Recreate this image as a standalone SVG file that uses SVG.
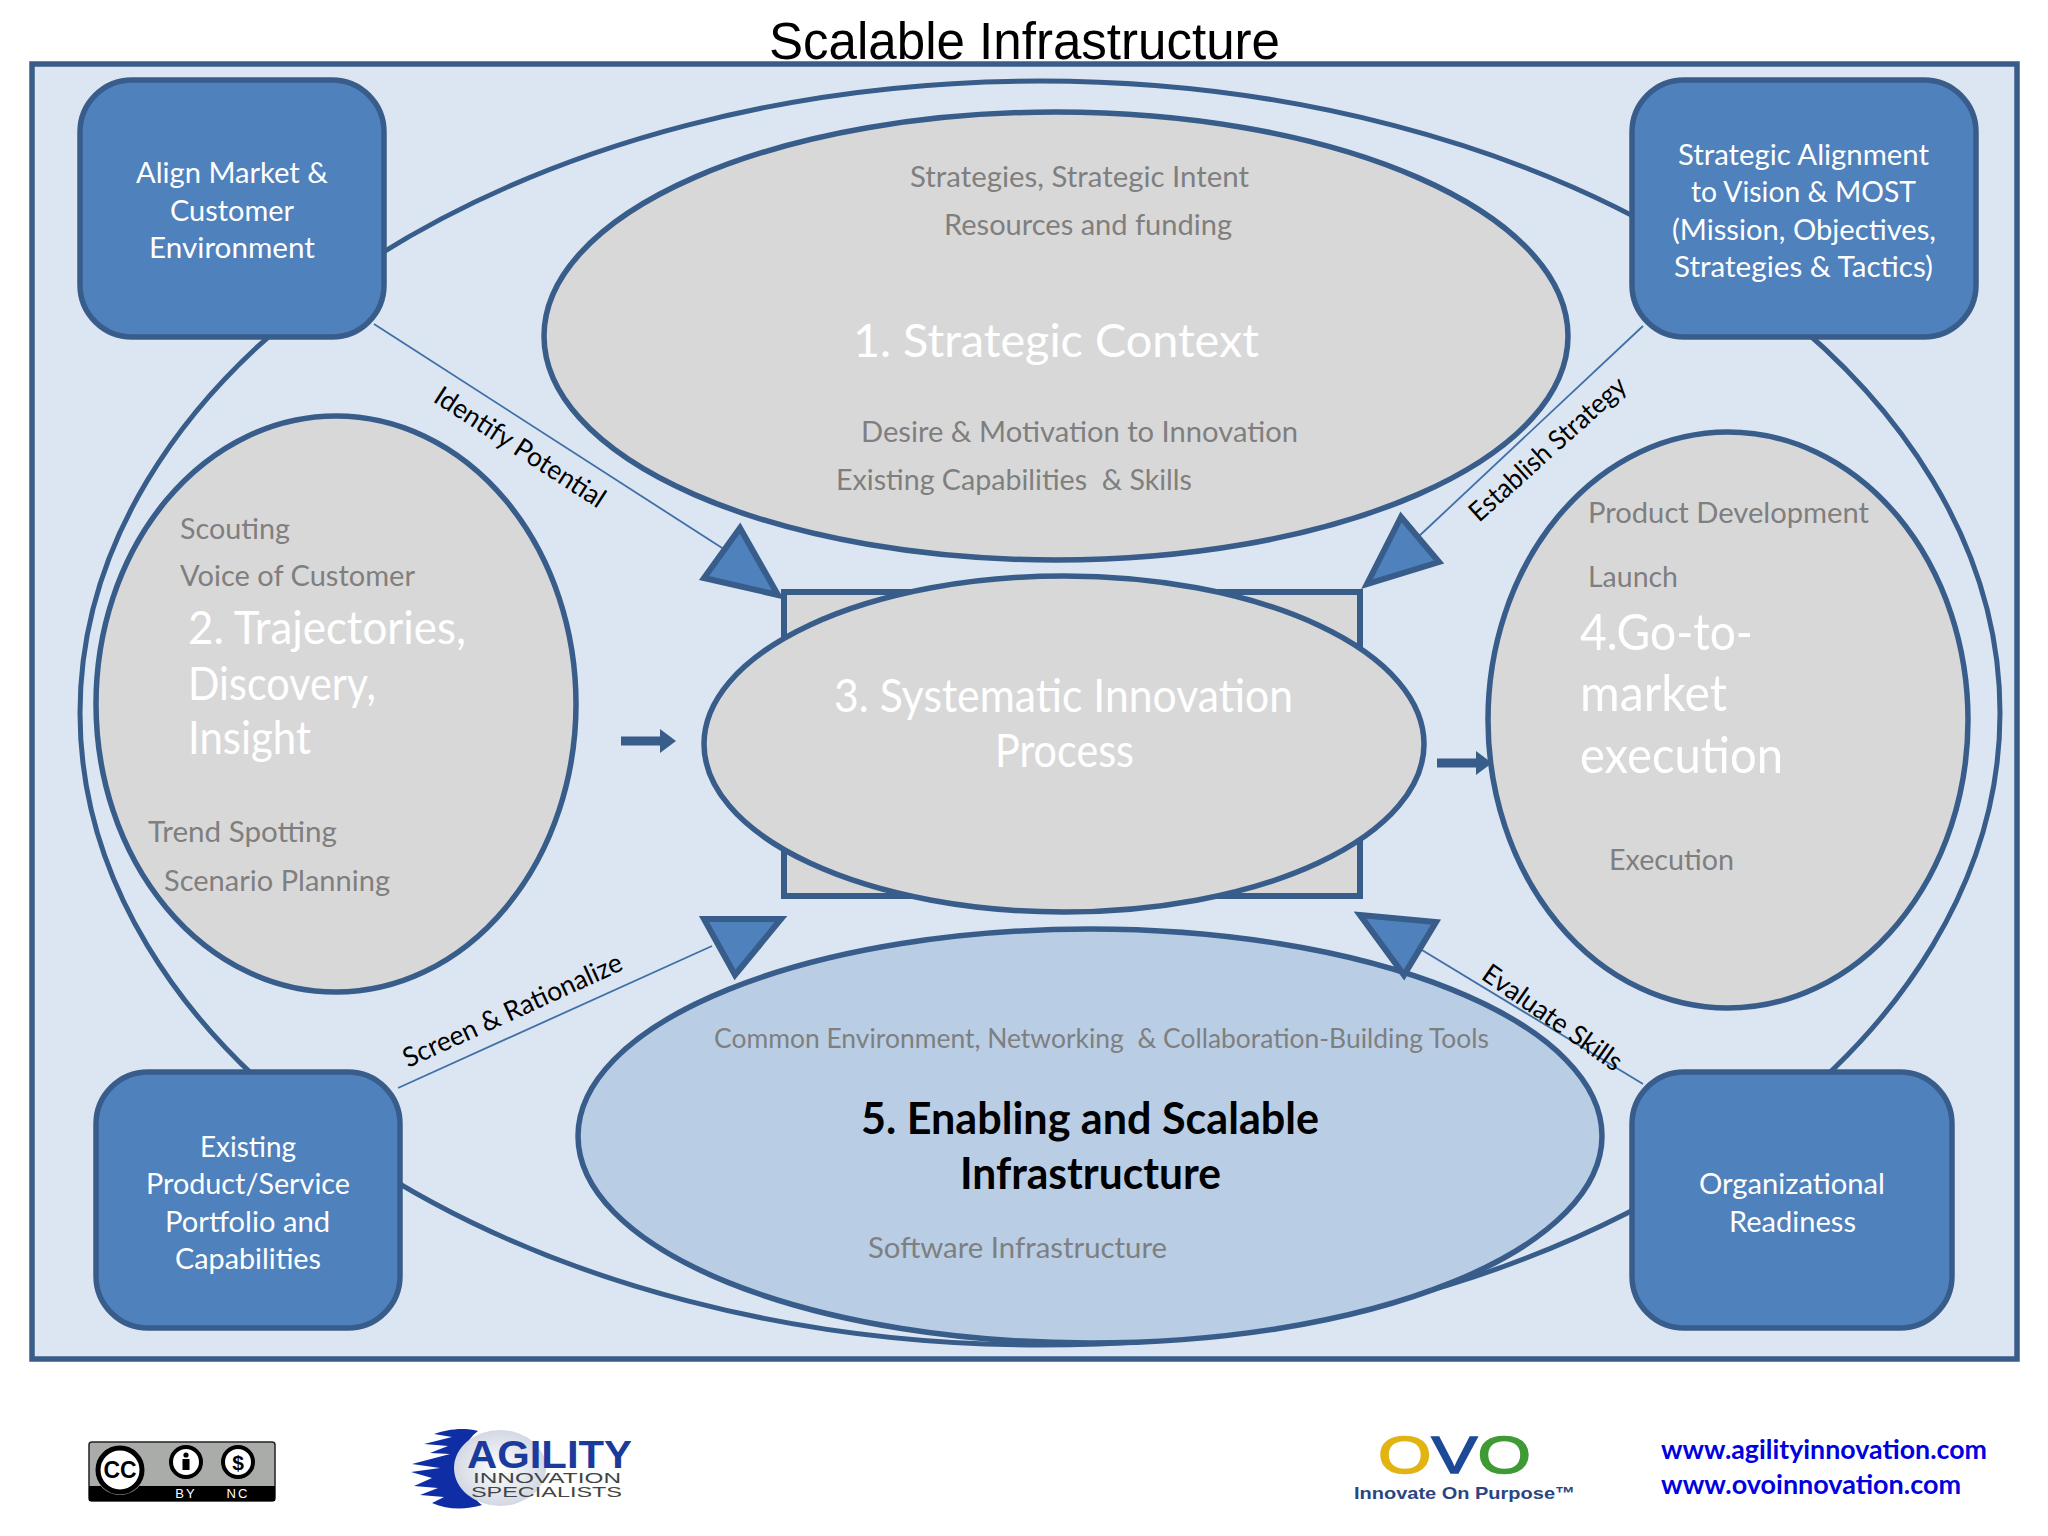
<svg xmlns="http://www.w3.org/2000/svg" width="2048" height="1536" viewBox="0 0 2048 1536">
<style>
.s{stroke:#385d8a;stroke-width:5}
.el{fill:#d9d8d9;stroke:#385d8a;stroke-width:5.5}
.bx{fill:#4f81bd;stroke:#385d8a;stroke-width:5.5}
.tri{fill:#4f81bd;stroke:#385d8a;stroke-width:6;stroke-linejoin:miter}
.ln{stroke:#3f6fa8;stroke-width:1.8;fill:none}
text{font-family:Lato,"Open Sans","Liberation Sans",sans-serif}
.g{fill:#7f7f7f;font-size:29px}
.g2{fill:#7f7f7f;font-size:27px}
.w{fill:#fff;font-size:29px}
.h{fill:#fff;font-size:47px}
.b{fill:#000;font-size:44px;font-weight:700}
.r{fill:#000;font-size:27px}
.ls{font-family:"Liberation Sans",sans-serif}
</style>
<defs>
<marker id="ah" markerUnits="userSpaceOnUse" markerWidth="16" markerHeight="24" refX="1" refY="12" orient="auto"><path d="M0 0L16 12L0 24Z" fill="#385d8a"/></marker>
<radialGradient id="ag" cx="0.5" cy="0.5" r="0.5"><stop offset="0" stop-color="#ffffff"/><stop offset="1" stop-color="#d3d8e4"/></radialGradient>
</defs>
<rect width="2048" height="1536" fill="#fff"/>
<text id="title" class="ls" x="769" y="59" font-size="51" textLength="511" lengthAdjust="spacingAndGlyphs" fill="#000">Scalable Infrastructure</text>
<rect id="frame" x="32" y="64" width="1985" height="1295" fill="#dce6f2" stroke="#385d8a" stroke-width="5.5"/>
<ellipse id="outer-ring" cx="1040" cy="713" rx="960" ry="632" fill="none" class="s"/>
<rect id="process-square" x="784" y="592" width="576" height="304" fill="#d9d8d9" class="s" style="stroke-width:6"/>

<g id="connectors">
<line class="ln" x1="374" y1="324" x2="733" y2="555"/>
<line class="ln" x1="1643" y1="326" x2="1417" y2="538"/>
<line class="ln" x1="398" y1="1088" x2="712" y2="946"/>
<line class="ln" x1="1643" y1="1084" x2="1417" y2="947"/>
<line x1="621" y1="741" x2="661" y2="741" stroke="#385d8a" stroke-width="9" marker-end="url(#ah)"/>
<line x1="1437" y1="763" x2="1477" y2="763" stroke="#385d8a" stroke-width="9" marker-end="url(#ah)"/>
<text class="r" transform="translate(432 401) rotate(33)" textLength="198" lengthAdjust="spacingAndGlyphs">Identify Potential</text>
<text class="r" transform="translate(1479 523) rotate(-42)" textLength="201" lengthAdjust="spacingAndGlyphs">Establish Strategy</text>
<text class="r" transform="translate(408 1068) rotate(-24.5)" textLength="238" lengthAdjust="spacingAndGlyphs">Screen &amp; Rationalize</text>
<text class="r" transform="translate(1480 978) rotate(35)" textLength="164" lengthAdjust="spacingAndGlyphs">Evaluate Skills</text>
</g>

<g id="node-1">
<ellipse class="el" cx="1056" cy="336" rx="512" ry="224"/>
<text class="g" x="910" y="187" textLength="339" lengthAdjust="spacingAndGlyphs">Strategies, Strategic Intent</text>
<text class="g" x="944" y="235" textLength="288" lengthAdjust="spacingAndGlyphs">Resources and funding</text>
<text class="h" x="853" y="357" textLength="406" lengthAdjust="spacingAndGlyphs">1. Strategic Context</text>
<text class="g" x="861" y="442" textLength="437" lengthAdjust="spacingAndGlyphs">Desire &amp; Motivation to Innovation</text>
<text class="g" x="836" y="490" textLength="356" lengthAdjust="spacingAndGlyphs" xml:space="preserve">Existing Capabilities  &amp; Skills</text>
</g>

<g id="node-2">
<ellipse class="el" cx="336" cy="704" rx="240" ry="288"/>
<text class="g" x="180" y="539" textLength="110" lengthAdjust="spacingAndGlyphs">Scouting</text>
<text class="g" x="180" y="586" textLength="235" lengthAdjust="spacingAndGlyphs">Voice of Customer</text>
<text class="h" x="188" y="644" textLength="278" lengthAdjust="spacingAndGlyphs">2. Trajectories,</text>
<text class="h" x="188" y="700" textLength="188" lengthAdjust="spacingAndGlyphs">Discovery,</text>
<text class="h" x="188" y="754" textLength="123" lengthAdjust="spacingAndGlyphs">Insight</text>
<text class="g" x="148" y="842" textLength="189" lengthAdjust="spacingAndGlyphs">Trend Spotting</text>
<text class="g" x="164" y="891" textLength="226" lengthAdjust="spacingAndGlyphs">Scenario Planning</text>
</g>

<g id="node-3">
<ellipse class="el" cx="1064" cy="744" rx="360" ry="168"/>
<text class="h" x="834" y="712" textLength="459" lengthAdjust="spacingAndGlyphs">3. Systematic Innovation</text>
<text class="h" x="995" y="767" textLength="139" lengthAdjust="spacingAndGlyphs">Process</text>
</g>

<g id="node-4">
<ellipse class="el" cx="1728" cy="720" rx="240" ry="288"/>
<text class="g" x="1588" y="523" textLength="281" lengthAdjust="spacingAndGlyphs">Product Development</text>
<text class="g" x="1588" y="587" textLength="90" lengthAdjust="spacingAndGlyphs">Launch</text>
<text class="h" x="1580" y="650" style="font-size:50px" textLength="173" lengthAdjust="spacingAndGlyphs">4.Go-to-</text>
<text class="h" x="1580" y="711" style="font-size:50px" textLength="147" lengthAdjust="spacingAndGlyphs">market</text>
<text class="h" x="1580" y="773" style="font-size:50px" textLength="203" lengthAdjust="spacingAndGlyphs">execution</text>
<text class="g" x="1609" y="870" textLength="125" lengthAdjust="spacingAndGlyphs">Execution</text>
</g>

<g id="node-5">
<ellipse class="el" style="fill:#b9cde5" cx="1090" cy="1136" rx="512" ry="207"/>
<text class="g2" x="714" y="1048" textLength="775" lengthAdjust="spacingAndGlyphs" xml:space="preserve">Common Environment, Networking  &amp; Collaboration-Building Tools</text>
<text class="b" x="861" y="1134" textLength="458" lengthAdjust="spacingAndGlyphs">5. Enabling and Scalable</text>
<text class="b" x="960" y="1189" textLength="261" lengthAdjust="spacingAndGlyphs">Infrastructure</text>
<text class="g" x="868" y="1258" textLength="299" lengthAdjust="spacingAndGlyphs">Software Infrastructure</text>
</g>

<g id="arrowheads">
<polygon class="tri" points="740,528 704,578 778,595"/>
<polygon class="tri" points="1401,517 1367,584 1439,562"/>
<polygon class="tri" points="704,919 781,919 735,975"/>
<polygon class="tri" points="1360,915 1436,922 1404,975"/>
</g>

<g id="box-market">
<rect class="bx" x="80" y="80" width="304" height="257" rx="52"/>
<text class="w" x="136" y="183" textLength="192" lengthAdjust="spacingAndGlyphs">Align Market &amp;</text>
<text class="w" x="170" y="221" textLength="124" lengthAdjust="spacingAndGlyphs">Customer</text>
<text class="w" x="149" y="258" textLength="166" lengthAdjust="spacingAndGlyphs">Environment</text>
</g>
<g id="box-alignment">
<rect class="bx" x="1632" y="80" width="344" height="257" rx="52"/>
<text class="w" x="1678" y="165" textLength="251" lengthAdjust="spacingAndGlyphs">Strategic Alignment</text>
<text class="w" x="1691" y="202" textLength="225" lengthAdjust="spacingAndGlyphs">to Vision &amp; MOST</text>
<text class="w" x="1672" y="240" textLength="264" lengthAdjust="spacingAndGlyphs">(Mission, Objectives,</text>
<text class="w" x="1674" y="277" textLength="259" lengthAdjust="spacingAndGlyphs">Strategies &amp; Tactics)</text>
</g>
<g id="box-portfolio">
<rect class="bx" x="96" y="1072" width="304" height="256" rx="52"/>
<text class="w" x="200" y="1157" textLength="96" lengthAdjust="spacingAndGlyphs">Existing</text>
<text class="w" x="146" y="1194" textLength="204" lengthAdjust="spacingAndGlyphs">Product/Service</text>
<text class="w" x="165" y="1232" textLength="165" lengthAdjust="spacingAndGlyphs">Portfolio and</text>
<text class="w" x="175" y="1269" textLength="146" lengthAdjust="spacingAndGlyphs">Capabilities</text>
</g>
<g id="box-readiness">
<rect class="bx" x="1632" y="1072" width="320" height="256" rx="52"/>
<text class="w" x="1699" y="1194" textLength="186" lengthAdjust="spacingAndGlyphs">Organizational</text>
<text class="w" x="1729" y="1232" textLength="127" lengthAdjust="spacingAndGlyphs">Readiness</text>
</g>

<g id="logo-cc">
<rect x="89" y="1442" width="186" height="59" rx="3" fill="#a9aca8" stroke="#222" stroke-width="1.500"/>
<rect x="89" y="1486" width="186" height="15" fill="#000"/>
<circle cx="120" cy="1470" r="25" fill="#a9aca8"/>
<circle cx="120" cy="1470" r="22" fill="#fff" stroke="#000" stroke-width="5"/>
<text class="ls" x="120" y="1478" font-size="23" font-weight="700" text-anchor="middle" fill="#000">CC</text>
<circle cx="186" cy="1462" r="15" fill="#fff" stroke="#000" stroke-width="4"/>
<circle cx="186" cy="1455" r="2.600" fill="#000"/><rect x="182.500" y="1459" width="7" height="11" fill="#000"/>
<circle cx="238" cy="1462" r="15" fill="#fff" stroke="#000" stroke-width="4"/>
<text class="ls" x="238" y="1470" font-size="21" font-weight="700" text-anchor="middle" fill="#000">$</text>
<text class="ls" x="186" y="1498" font-size="13" text-anchor="middle" style="letter-spacing:2px" fill="#fff">BY</text>
<text class="ls" x="238" y="1498" font-size="13" text-anchor="middle" style="letter-spacing:2px" fill="#fff">NC</text>
</g>

<g id="logo-agility">
<path fill="#0f2ea6" d="M478 1431C462 1427 446 1430 434 1434L452 1437L424 1444L448 1446L430 1453L450 1454L412 1464L440 1468L411 1472L432 1478L414 1486L438 1488L420 1495L444 1497L432 1503C448 1510 466 1510 482 1505C462 1490 452 1450 478 1431Z"/>
<ellipse cx="500" cy="1468" rx="46" ry="38" fill="url(#ag)"/>
<text class="ls" x="467" y="1468" font-size="38" font-weight="700" textLength="165" lengthAdjust="spacingAndGlyphs" fill="#1a3a9c">AGILITY</text>
<text class="ls" x="473" y="1483" font-size="14" textLength="148" lengthAdjust="spacingAndGlyphs" fill="#444">INNOVATION</text>
<text class="ls" x="471" y="1497" font-size="14" textLength="151" lengthAdjust="spacingAndGlyphs" fill="#444">SPECIALISTS</text>
</g>

<g id="logo-ovo">
<text class="ls" x="1378" y="1473" font-size="52" textLength="153" lengthAdjust="spacingAndGlyphs" stroke-width="1.500"><tspan fill="#e2b412" stroke="#e2b412">O</tspan><tspan fill="#1c4a97" stroke="#1c4a97">V</tspan><tspan fill="#3f9a35" stroke="#3f9a35">O</tspan></text>
<text class="ls" x="1354" y="1499" font-size="17" font-weight="700" textLength="221" lengthAdjust="spacingAndGlyphs" fill="#2a4580">Innovate On Purpose™</text>
</g>

<g id="urls">
<text x="1661" y="1459" font-size="26" font-weight="700" textLength="326" lengthAdjust="spacingAndGlyphs" fill="#0000e0">www.agilityinnovation.com</text>
<text x="1661" y="1494" font-size="26" font-weight="700" textLength="300" lengthAdjust="spacingAndGlyphs" fill="#0000e0">www.ovoinnovation.com</text>
</g>
</svg>
